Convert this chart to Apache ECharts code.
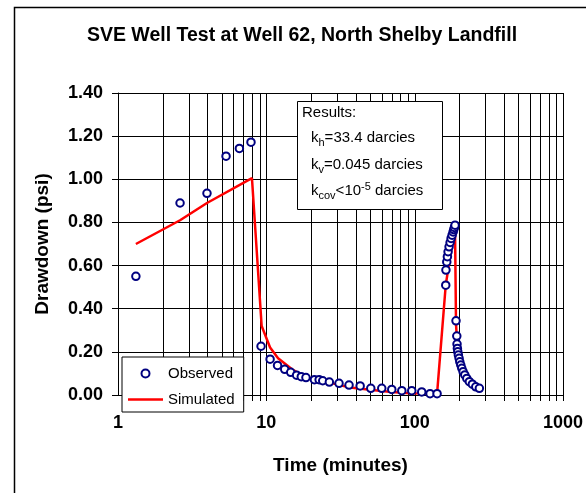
<!DOCTYPE html>
<html>
<head>
<meta charset="utf-8">
<script src="https://cdn.jsdelivr.net/npm/echarts@6/dist/echarts.min.js"></script>
<style>
html,body{margin:0;padding:0;background:#fff;}
#chart{width:586px;height:493px;}
</style>
</head>
<body>
<div id="chart"></div>
<script>
// ---- data ----
var observedTime = [1.32, 2.62, 3.98, 5.35, 6.58, 7.88,
  9.21, 10.6, 11.9, 13.3, 14.6, 16.0, 17.2, 18.5, 21.1, 22.7, 24.0, 26.6, 30.9, 36.1, 42.9, 50.6, 60.0, 70.1, 81.9, 95.6, 111.6, 127, 141.6,
  162, 162.5, 164.6, 166.2, 168, 170.6, 173.3, 176, 178.8, 181.6, 183.5, 185.3, 187.1,
  190, 192.3, 193, 194.1, 195.3, 197.1, 199.3, 201.5, 204.6, 207.8, 212.1, 217.8, 224.6, 233.8, 245, 258.2, 273];
var observedDrawdown = [0.55, 0.89, 0.935, 1.107, 1.143, 1.172,
  0.226, 0.166, 0.137, 0.119, 0.105, 0.092, 0.085, 0.081, 0.071, 0.071, 0.066, 0.060, 0.054, 0.046, 0.042, 0.031, 0.031, 0.026, 0.020, 0.020, 0.014, 0.006, 0.006,
  0.509, 0.579, 0.617, 0.641, 0.664, 0.687, 0.707, 0.726, 0.741, 0.756, 0.767, 0.777, 0.787,
  0.344, 0.273, 0.236, 0.216, 0.201, 0.185, 0.170, 0.154, 0.139, 0.124, 0.108, 0.093, 0.077, 0.062, 0.050, 0.038, 0.031];
var simulatedTime = [1.32, 2.62, 3.98, 8.0, 9.3, 10.6, 12.0, 15.2, 18.7, 25, 36.7, 50, 70, 93, 141.6,
  162, 187, 190, 194, 200, 208, 218, 234, 258, 273];
var simulatedDrawdown = [0.70, 0.81, 0.89, 1.005, 0.32, 0.22, 0.17, 0.115, 0.082, 0.062, 0.035, 0.024, 0.014, 0.008, 0.006,
  0.51, 0.787, 0.33, 0.22, 0.165, 0.125, 0.093, 0.062, 0.038, 0.03];
var xTickLabels = ['1', '10', '100', '1000'];
var xGridValues = [2,3,4,5,6,7,8,9,10,20,30,40,50,60,70,80,90,100,200,300,400,500,600,700,800,900,1000];
var yMin = 0, yMax = 1.4, yStep = 0.2;
var titleText = 'SVE Well Test at Well 62, North Shelby Landfill';
var xAxisTitle = 'Time (minutes)';
var yAxisTitle = 'Drawdown (psi)';
var seriesNames = ['Observed', 'Simulated'];

var observed = observedTime.map(function (t, i) { return [t, observedDrawdown[i]]; });
var simulated = simulatedTime.map(function (t, i) { return [t, simulatedDrawdown[i]]; });

var FONT = 'Liberation Sans, Arial, sans-serif';
var chart = echarts.init(document.getElementById('chart'), null, {renderer: 'canvas'});

var richStyles = {
  n: {fontFamily: FONT, fontSize: 15, color: '#000', lineHeight: 20},
  sub: {fontFamily: FONT, fontSize: 11, color: '#000', lineHeight: 12, verticalAlign: 'bottom'},
  sup: {fontFamily: FONT, fontSize: 11, color: '#000', lineHeight: 12, verticalAlign: 'top'}
};

var option = {
  backgroundColor: '#fff',
  animation: false,
  grid: {left: 118, right: 23, top: 93, bottom: 98, containLabel: false, outerBoundsMode: 'none'},
  legend: {
    data: [
      {name: seriesNames[0], icon: 'emptyCircle'},
      {name: seriesNames[1], icon: 'path://M0,0H35V2.6H0Z'}
    ],
    orient: 'vertical',
    left: 122, top: 357,
    itemWidth: 35, itemHeight: 8, itemGap: 11,
    padding: [9, 9, 5, 6],
    backgroundColor: '#fff',
    borderColor: '#000', borderWidth: 1,
    textStyle: {fontFamily: FONT, fontSize: 15, color: '#000'},
    selectedMode: false
  },
  xAxis: {
    type: 'log', logBase: 10, min: 1, max: 1000,
    axisLine: {show: true, lineStyle: {color: '#000', width: 1}},
    axisTick: {show: false},
    splitLine: {show: false},
    minorTick: {show: false}, minorSplitLine: {show: false},
    axisLabel: {
      show: true, margin: 19, showMinLabel: true, showMaxLabel: true,
      fontFamily: FONT, fontSize: 18, fontWeight: 'bold', color: '#000',
      formatter: function (v) {
        var idx = Math.round(Math.log10(v));
        return xTickLabels[idx] !== undefined ? xTickLabels[idx] : '';
      }
    },
    name: xAxisTitle, nameLocation: 'middle', nameGap: 61,
    nameTextStyle: {fontFamily: FONT, fontSize: 19, fontWeight: 'bold', color: '#000'}
  },
  yAxis: {
    type: 'value', min: yMin, max: yMax, interval: yStep,
    axisLine: {show: true, lineStyle: {color: '#000', width: 1}},
    axisTick: {show: true, length: 6, inside: false, lineStyle: {color: '#000'}},
    splitLine: {show: true, lineStyle: {color: '#000', width: 1}},
    axisLabel: {
      margin: 15, fontFamily: FONT, fontSize: 18, fontWeight: 'bold', color: '#000',
      formatter: function (v) { return v.toFixed(2); }
    },
    name: yAxisTitle, nameLocation: 'middle', nameGap: 66, nameRotate: 90,
    nameTextStyle: {fontFamily: FONT, fontSize: 19, fontWeight: 'bold', color: '#000'}
  },
  series: [
    {
      type: 'custom', name: 'grid', silent: true, z: 1, clip: false,
      data: xGridValues.map(function (v) { return [v, 0]; }),
      renderItem: function (params, api) {
        var v = api.value(0);
        var top = api.coord([v, yMax]);
        var bot = api.coord([v, yMin]);
        var x = Math.round(top[0]) + 0.5;
        return {
          type: 'line',
          shape: {x1: x, y1: Math.round(top[1]), x2: x, y2: Math.round(bot[1]) + 6},
          style: {stroke: '#000', lineWidth: 1}
        };
      }
    },
    {
      type: 'line', name: seriesNames[1], data: simulated, z: 3,
      symbol: 'none', smooth: false,
      lineStyle: {color: '#ff0000', width: 2.5},
      itemStyle: {color: '#ff0000'}
    },
    {
      type: 'scatter', name: seriesNames[0], data: observed, z: 4,
      symbol: 'emptyCircle', symbolSize: 7.5,
      itemStyle: {color: '#000080', borderWidth: 1.4, opacity: 1}
    }
  ],
  graphic: [
    {type: 'rect', left: 12, top: 5, z: 100, silent: true,
      shape: {x: 0, y: 0, width: 620, height: 520},
      style: {fill: 'none', stroke: '#000', lineWidth: 1.5}},
    {type: 'text', x: 302, y: 36, z: 100,
      style: {text: titleText, fontFamily: FONT, fontSize: 19.5, fontWeight: 'bold', fill: '#000',
        align: 'center', verticalAlign: 'middle'}},
    {type: 'rect', z: 50, shape: {x: 297.5, y: 101.5, width: 145, height: 108},
      style: {fill: '#fff', stroke: '#000', lineWidth: 1}},
    {type: 'text', x: 302, y: 113, z: 51,
      style: {text: 'Results:', fontFamily: FONT, fontSize: 15, fill: '#000', verticalAlign: 'middle'}},
    {type: 'text', x: 311, y: 138, z: 51,
      style: {text: '{n|k}{sub|h}{n|=33.4 darcies}', verticalAlign: 'middle', rich: richStyles}},
    {type: 'text', x: 311, y: 165, z: 51,
      style: {text: '{n|k}{sub|v}{n|=0.045 darcies}', verticalAlign: 'middle', rich: richStyles}},
    {type: 'text', x: 311, y: 191, z: 51,
      style: {text: '{n|k}{sub|cov}{n|<10}{sup|-5}{n| darcies}', verticalAlign: 'middle', rich: richStyles}}
  ]
};
chart.setOption(option);
</script>
</body>
</html>
